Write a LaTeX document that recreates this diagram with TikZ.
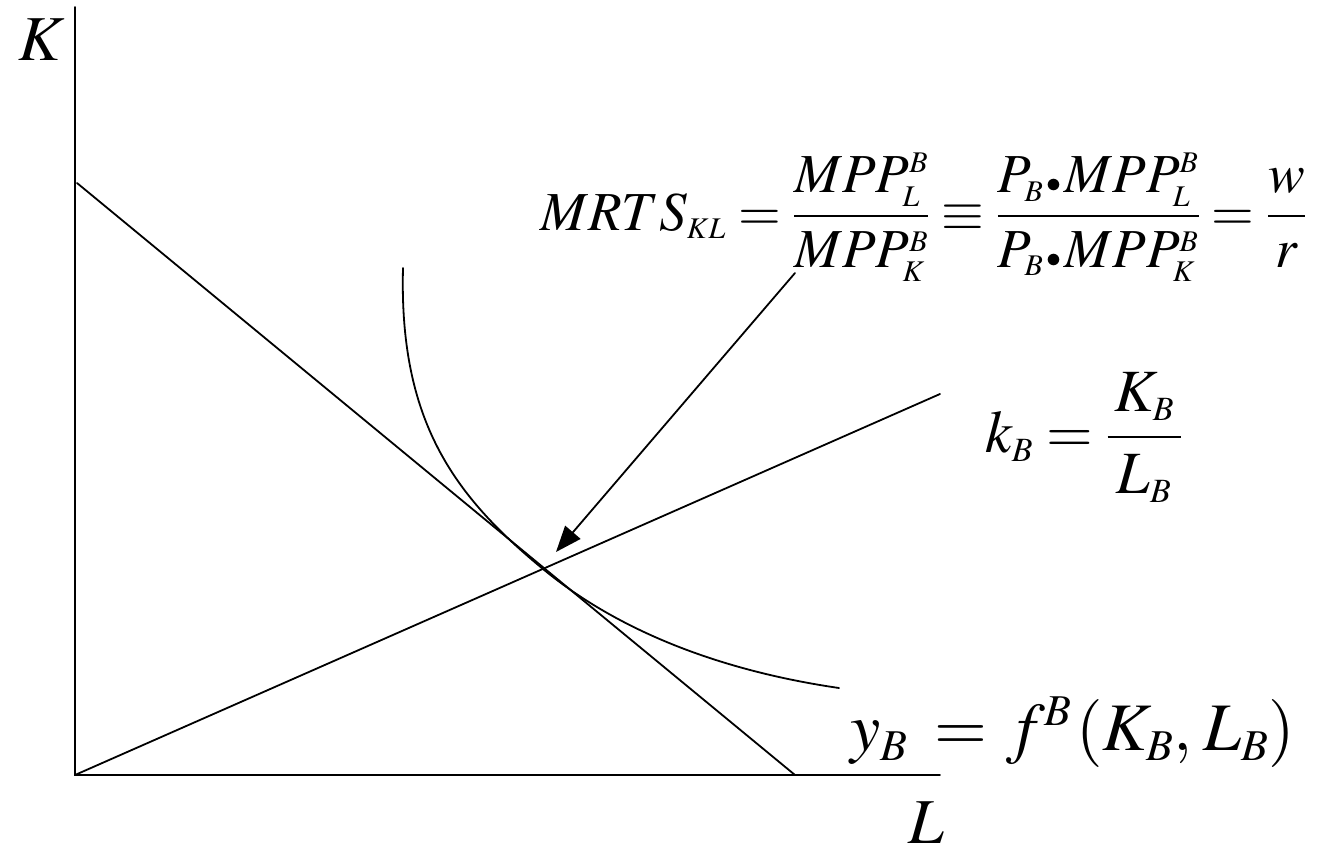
\documentclass[tikz,border=0pt]{standalone}
\usepackage{mathptmx}
\DeclareMathSizes{55}{55}{30}{24}
\DeclareMathSizes{60}{60}{34}{26}
\DeclareMathSizes{64}{64}{42}{32}
\DeclareMathSizes{68}{68}{44}{34}
\usetikzlibrary{arrows.meta}
\tikzset{
  ln/.style={line width=1.8pt, line cap=round},
  lbl/.style={inner sep=0pt, font=\fontsize{55}{60}\selectfont},
  midlbl/.style={inner sep=0pt, font=\fontsize{60}{64}\selectfont},
  biglbl/.style={inner sep=0pt, font=\fontsize{64}{68}\selectfont},
  hugelbl/.style={inner sep=0pt, font=\fontsize{68}{72}\selectfont},
}
\newcommand{\dotop}{\mkern1mu{\scriptstyle\bullet}\mkern1mu}
\begin{document}
\begin{tikzpicture}[x=1pt,y=-1pt]
\useasboundingbox (0,0) rectangle (1328,851);
% axes
\coordinate (O) at (75,775);
\coordinate (Ktop) at (75,7);
\coordinate (Lend) at (940,775);
\draw[ln] (Ktop) -- (O) -- (Lend);
% budget line
\coordinate (B1) at (77,183);
\coordinate (B2) at (795,775);
\draw[ln] (B1) -- (B2);
% ray
\coordinate (R2) at (940,394);
\draw[ln] (O) -- (R2);
% isoquant
\coordinate (I0) at (403,268);
\coordinate (T) at (543,569);
\coordinate (I1) at (839,688);
\draw[ln] (I0) .. controls (399,420) and (453,495) .. (T)
          .. controls (623,635) and (729,672) .. (I1);
% arrow
\coordinate (A0) at (795,273);
\coordinate (A1) at (556,552);
\draw[ln, -{Triangle[length=26pt,width=20pt]}] (A0) -- (A1);
% labels
\node[biglbl, anchor=base west] (Klab) at (18,60) {$K$};
\node[biglbl, anchor=base west] (Llab) at (908,843) {$L$};
\node[lbl, anchor=base west] (mrts) at (540,230)
  {$\displaystyle MRTS_{KL}=\frac{MPP^B_L}{MPP^B_K}\equiv\frac{P_B\dotop MPP^B_L}{P_B\dotop MPP^B_K}=\frac{w}{r}$};
\node[midlbl, anchor=base west] (kb) at (985,452)
  {$\displaystyle k_B=\frac{\,K_B\,}{L_B}$};
\node[hugelbl, anchor=base west] (yb) at (850,750)
  {$y_B\mkern3mu=\mkern1mu f^B\mkern1mu(K_B,\mkern1mu L_B)$};
\end{tikzpicture}
\end{document}
